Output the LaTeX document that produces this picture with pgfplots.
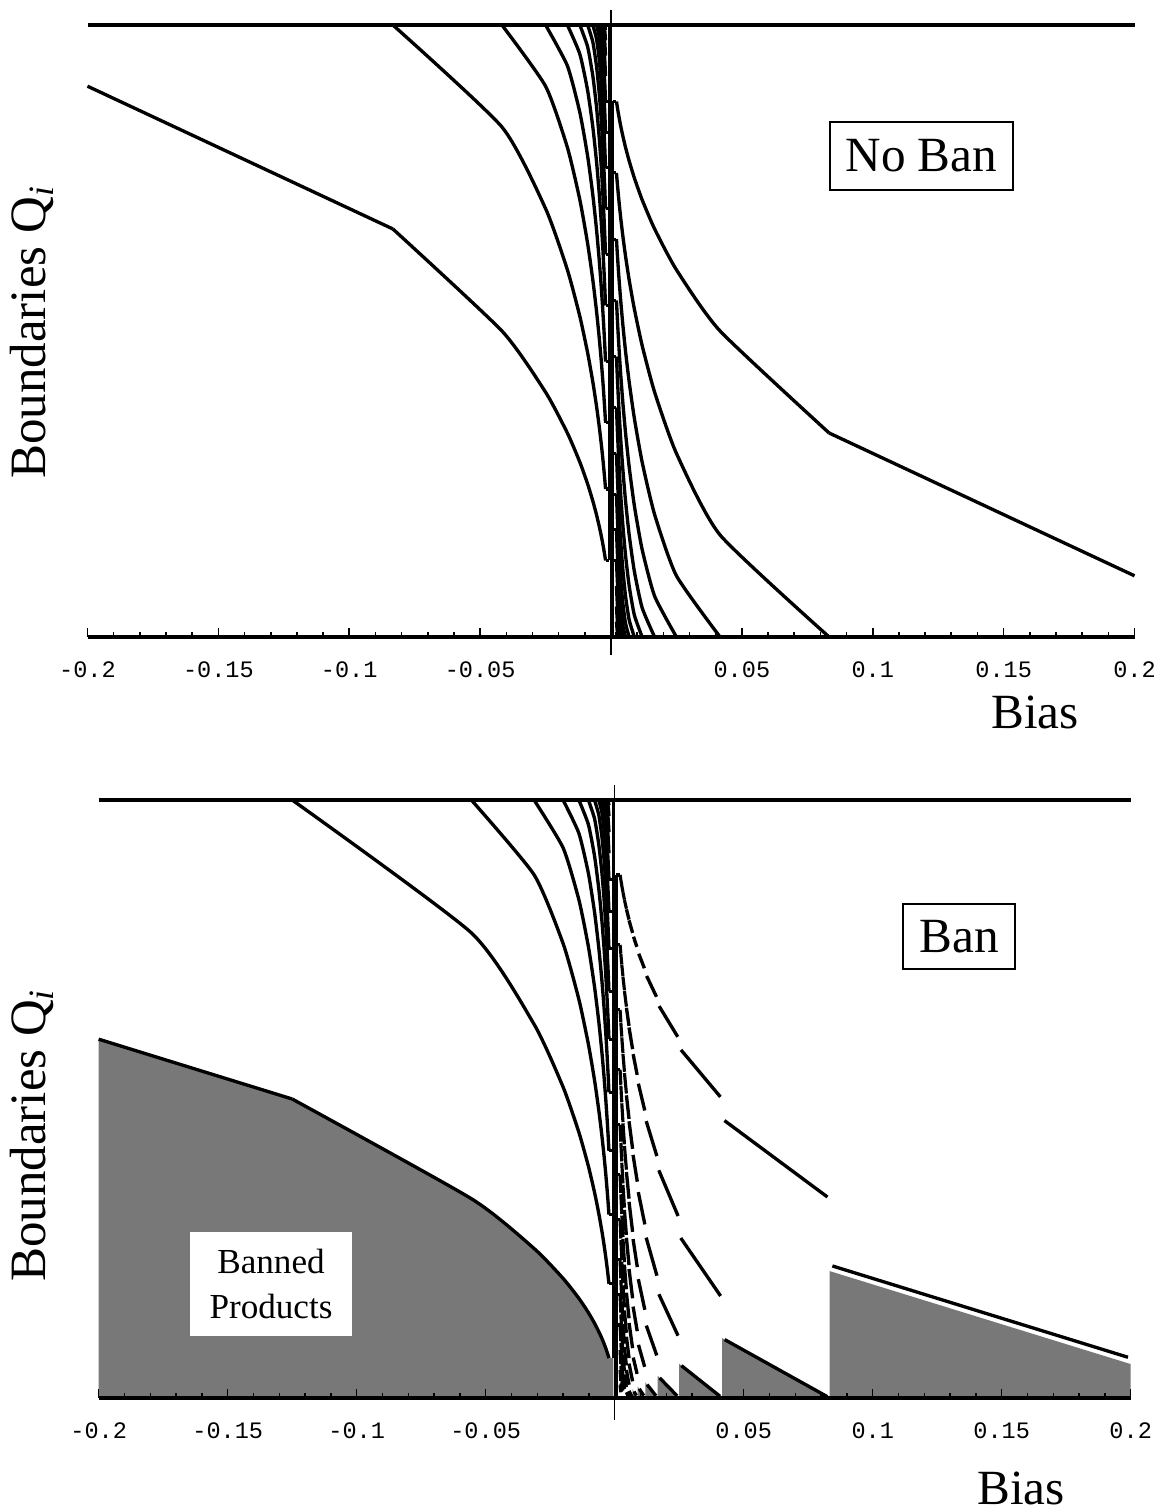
\documentclass[border=0pt]{standalone}
\usepackage{fontspec}
\setmainfont{Liberation Serif}
\newfontfamily\monofont{Liberation Mono}
\usepackage{pgfplots}
\pgfplotsset{compat=1.18}

\pgfplotsset{
  panel/.style={
    scale only axis, xmin=-0.2, xmax=0.2, ymin=0, ymax=1,
    axis x line*=bottom, axis y line=none, clip=false, axis on top,
    xtick={-0.2,-0.15,-0.1,-0.05,0.05,0.1,0.15,0.2},
    xticklabels={-0.2,-0.15,-0.1,-0.05,0.05,0.1,0.15,0.2},
    minor xtick={-0.19,-0.18,-0.17,-0.16,-0.14,-0.13,-0.12,-0.11,-0.09,-0.08,-0.07,-0.06,-0.04,-0.03,-0.02,-0.01,
                 0.01,0.02,0.03,0.04,0.06,0.07,0.08,0.09,0.11,0.12,0.13,0.14,0.16,0.17,0.18,0.19},
    ytick=\empty,
    tick align=inside,
    major tick length=0.085cm, minor tick length=0.05cm,
    tick style={black, line width=0.45pt},
    axis line style={black, line width=1.1pt},
    xticklabel style={font=\monofont\fontsize{6.7}{7.5}\selectfont, yshift=-0.12cm},
  },
  curve/.style={black, line width=0.95pt, line join=round},
  smoothcurve/.style={curve, smooth, tension=0.35},
  gapseg/.style={curve, shorten >=0.8pt, shorten <=0.8pt},
  banfill/.style={fill=black!53, draw=none},
  ladder/.style={black, line width=0.9pt, unbounded coords=jump},
}
\newcommand{\seg}[4]{\addplot[gapseg] coordinates {(#1,#2) (#3,#4)};}
\newcommand{\sseg}[4]{\addplot[curve] coordinates {(#1,#2) (#3,#4)};}

\begin{document}
\begin{tikzpicture}
\fill[white] (0,0) rectangle (11.61,15.12);
\path[use as bounding box] (0,0) rectangle (11.61,15.12);

% ---------------- top panel: no ban ----------------
\begin{axis}[panel, at={(0.875cm,8.75cm)}, anchor=south west, width=10.47cm, height=6.12cm]
\addplot[curve] coordinates {(-0.2,1) (0.2,1)};
\addplot[black, line width=0.45pt] coordinates {(0,-0.029) (0,1.0245)};
% left boundaries
\addplot[curve] coordinates {(-0.2,0.9) (-0.0833333,0.6667)};
\addplot[smoothcurve] coordinates {(-0.0833333,0.6667) (-0.0416667,0.5) (-0.025,0.4) (-0.0166667,0.3333) (-0.0119048,0.2857) (-0.0089286,0.25) (-0.0069444,0.2222) (-0.0055556,0.2) (-0.0045455,0.1818) (-0.0037879,0.1667) (-0.0032051,0.1538) (-0.0027473,0.1429) (-0.002381,0.1333) (-0.0020833,0.125)};
\addplot[smoothcurve] coordinates {(-0.0833333,1) (-0.0416667,0.8333) (-0.025,0.7) (-0.0166667,0.6) (-0.0119048,0.5238) (-0.0089286,0.4643) (-0.0069444,0.4167) (-0.0055556,0.3778) (-0.0045455,0.3455) (-0.0037879,0.3182) (-0.0032051,0.2949) (-0.0027473,0.2747) (-0.002381,0.2571) (-0.0020833,0.2417)};
\addplot[smoothcurve] coordinates {(-0.0416667,1) (-0.025,0.9) (-0.0166667,0.8) (-0.0119048,0.7143) (-0.0089286,0.6429) (-0.0069444,0.5833) (-0.0055556,0.5333) (-0.0045455,0.4909) (-0.0037879,0.4545) (-0.0032051,0.4231) (-0.0027473,0.3956) (-0.002381,0.3714) (-0.0020833,0.35)};
\addplot[smoothcurve] coordinates {(-0.025,1) (-0.0166667,0.9333) (-0.0119048,0.8571) (-0.0089286,0.7857) (-0.0069444,0.7222) (-0.0055556,0.6667) (-0.0045455,0.6182) (-0.0037879,0.5758) (-0.0032051,0.5385) (-0.0027473,0.5055) (-0.002381,0.4762) (-0.0020833,0.45)};
\addplot[smoothcurve] coordinates {(-0.0166667,1) (-0.0119048,0.9524) (-0.0089286,0.8929) (-0.0069444,0.8333) (-0.0055556,0.7778) (-0.0045455,0.7273) (-0.0037879,0.6818) (-0.0032051,0.641) (-0.0027473,0.6044) (-0.002381,0.5714) (-0.0020833,0.5417)};
\addplot[smoothcurve] coordinates {(-0.0119048,1) (-0.0089286,0.9643) (-0.0069444,0.9167) (-0.0055556,0.8667) (-0.0045455,0.8182) (-0.0037879,0.7727) (-0.0032051,0.7308) (-0.0027473,0.6923) (-0.002381,0.6571) (-0.0020833,0.625)};
\addplot[smoothcurve] coordinates {(-0.0089286,1) (-0.0069444,0.9722) (-0.0055556,0.9333) (-0.0045455,0.8909) (-0.0037879,0.8485) (-0.0032051,0.8077) (-0.0027473,0.7692) (-0.002381,0.7333) (-0.0020833,0.7)};
\addplot[smoothcurve] coordinates {(-0.0069444,1) (-0.0055556,0.9778) (-0.0045455,0.9455) (-0.0037879,0.9091) (-0.0032051,0.8718) (-0.0027473,0.8352) (-0.002381,0.8) (-0.0020833,0.7667)};
\addplot[smoothcurve] coordinates {(-0.0055556,1) (-0.0045455,0.9818) (-0.0037879,0.9545) (-0.0032051,0.9231) (-0.0027473,0.8901) (-0.002381,0.8571) (-0.0020833,0.825)};
\addplot[smoothcurve] coordinates {(-0.0045455,1) (-0.0037879,0.9848) (-0.0032051,0.9615) (-0.0027473,0.9341) (-0.002381,0.9048) (-0.0020833,0.875)};
\addplot[smoothcurve] coordinates {(-0.0037879,1) (-0.0032051,0.9872) (-0.0027473,0.967) (-0.002381,0.9429) (-0.0020833,0.9167)};
\addplot[smoothcurve] coordinates {(-0.0032051,1) (-0.0027473,0.989) (-0.002381,0.9714) (-0.0020833,0.95)};
\addplot[smoothcurve] coordinates {(-0.0027473,1) (-0.002381,0.9905) (-0.0020833,0.975)};
\addplot[curve] coordinates {(-0.002381,1) (-0.0020833,0.9917)};
% right boundaries
\addplot[curve] coordinates {(0.2,0.1) (0.0833333,0.3333)};
\addplot[smoothcurve] coordinates {(0.0833333,0.3333) (0.0416667,0.5) (0.025,0.6) (0.0166667,0.6667) (0.0119048,0.7143) (0.0089286,0.75) (0.0069444,0.7778) (0.0055556,0.8) (0.0045455,0.8182) (0.0037879,0.8333) (0.0032051,0.8462) (0.0027473,0.8571) (0.002381,0.8667) (0.0020833,0.875)};
\addplot[smoothcurve] coordinates {(0.0833333,0) (0.0416667,0.1667) (0.025,0.3) (0.0166667,0.4) (0.0119048,0.4762) (0.0089286,0.5357) (0.0069444,0.5833) (0.0055556,0.6222) (0.0045455,0.6545) (0.0037879,0.6818) (0.0032051,0.7051) (0.0027473,0.7253) (0.002381,0.7429) (0.0020833,0.7583)};
\addplot[smoothcurve] coordinates {(0.0416667,0) (0.025,0.1) (0.0166667,0.2) (0.0119048,0.2857) (0.0089286,0.3571) (0.0069444,0.4167) (0.0055556,0.4667) (0.0045455,0.5091) (0.0037879,0.5455) (0.0032051,0.5769) (0.0027473,0.6044) (0.002381,0.6286) (0.0020833,0.65)};
\addplot[smoothcurve] coordinates {(0.025,0) (0.0166667,0.0667) (0.0119048,0.1429) (0.0089286,0.2143) (0.0069444,0.2778) (0.0055556,0.3333) (0.0045455,0.3818) (0.0037879,0.4242) (0.0032051,0.4615) (0.0027473,0.4945) (0.002381,0.5238) (0.0020833,0.55)};
\addplot[smoothcurve] coordinates {(0.0166667,0) (0.0119048,0.0476) (0.0089286,0.1071) (0.0069444,0.1667) (0.0055556,0.2222) (0.0045455,0.2727) (0.0037879,0.3182) (0.0032051,0.359) (0.0027473,0.3956) (0.002381,0.4286) (0.0020833,0.4583)};
\addplot[smoothcurve] coordinates {(0.0119048,0) (0.0089286,0.0357) (0.0069444,0.0833) (0.0055556,0.1333) (0.0045455,0.1818) (0.0037879,0.2273) (0.0032051,0.2692) (0.0027473,0.3077) (0.002381,0.3429) (0.0020833,0.375)};
\addplot[smoothcurve] coordinates {(0.0089286,0) (0.0069444,0.0278) (0.0055556,0.0667) (0.0045455,0.1091) (0.0037879,0.1515) (0.0032051,0.1923) (0.0027473,0.2308) (0.002381,0.2667) (0.0020833,0.3)};
\addplot[smoothcurve] coordinates {(0.0069444,0) (0.0055556,0.0222) (0.0045455,0.0545) (0.0037879,0.0909) (0.0032051,0.1282) (0.0027473,0.1648) (0.002381,0.2) (0.0020833,0.2333)};
\addplot[smoothcurve] coordinates {(0.0055556,0) (0.0045455,0.0182) (0.0037879,0.0455) (0.0032051,0.0769) (0.0027473,0.1099) (0.002381,0.1429) (0.0020833,0.175)};
\addplot[smoothcurve] coordinates {(0.0045455,0) (0.0037879,0.0152) (0.0032051,0.0385) (0.0027473,0.0659) (0.002381,0.0952) (0.0020833,0.125)};
\addplot[smoothcurve] coordinates {(0.0037879,0) (0.0032051,0.0128) (0.0027473,0.033) (0.002381,0.0571) (0.0020833,0.0833)};
\addplot[smoothcurve] coordinates {(0.0032051,0) (0.0027473,0.011) (0.002381,0.0286) (0.0020833,0.05)};
\addplot[smoothcurve] coordinates {(0.0027473,0) (0.002381,0.0095) (0.0020833,0.025)};
\addplot[curve] coordinates {(0.002381,0) (0.0020833,0.0083)};
% ladders next to the vertical axis
\addplot[ladder] coordinates {(-0.0006,0.125) (-0.0006,1)};
\addplot[ladder] coordinates {(-0.0020833,0.125) (-0.0006,0.125) (0,nan) (-0.0020833,0.2417) (-0.0006,0.2417) (0,nan)
  (-0.0020833,0.35) (-0.0006,0.35) (0,nan) (-0.0020833,0.45) (-0.0006,0.45) (0,nan) (-0.0020833,0.5417) (-0.0006,0.5417) (0,nan)
  (-0.0020833,0.625) (-0.0006,0.625) (0,nan) (-0.0020833,0.7) (-0.0006,0.7) (0,nan) (-0.0020833,0.7667) (-0.0006,0.7667) (0,nan)
  (-0.0020833,0.825) (-0.0006,0.825) (0,nan) (-0.0020833,0.875) (-0.0006,0.875)};
\addplot[ladder] coordinates {(0.0006,0) (0.0006,0.875)};
\addplot[ladder] coordinates {(0.0006,0.875) (0.0020833,0.875) (0,nan) (0.0006,0.7583) (0.0020833,0.7583) (0,nan)
  (0.0006,0.65) (0.0020833,0.65) (0,nan) (0.0006,0.55) (0.0020833,0.55) (0,nan) (0.0006,0.4583) (0.0020833,0.4583) (0,nan)
  (0.0006,0.375) (0.0020833,0.375) (0,nan) (0.0006,0.3) (0.0020833,0.3) (0,nan) (0.0006,0.2333) (0.0020833,0.2333) (0,nan)
  (0.0006,0.175) (0.0020833,0.175) (0,nan) (0.0006,0.125) (0.0020833,0.125)};
\node[draw, line width=0.6pt, fill=white, minimum width=1.83cm, minimum height=0.68cm, inner sep=0pt,
      font=\fontsize{14}{16}\selectfont] at (axis cs:0.1186,0.786) {No Ban};
\end{axis}

% ---------------- bottom panel: ban ----------------
\begin{axis}[panel, at={(0.987cm,1.14cm)}, anchor=south west, width=10.32cm, height=5.98cm]
% banned region, negative bias
\addplot[banfill] coordinates {(-0.2,0.6) (-0.125,0.5) (-0.0555556,0.3333) (-0.03125,0.25) (-0.02,0.2) (-0.0138889,0.1667) (-0.0102041,0.1429) (-0.0078125,0.125) (-0.0061728,0.1111) (-0.005,0.1) (-0.0041322,0.0909) (-0.0034722,0.0833) (-0.0029586,0.0769) (-0.002551,0.0714) (-0.0022222,0.0667) (-0.0005,0.0667) (-0.0005,0)} \closedcycle;
% banned region, positive bias
\addplot[banfill] coordinates {(0.0833333,0) (0.0833333,0.2122) (0.2,0.0567) (0.2,0)} \closedcycle;
\addplot[banfill] coordinates {(0.0416667,0) (0.0416667,0.1) (0.0833333,0)} \closedcycle;
\addplot[banfill] coordinates {(0.025,0) (0.025,0.0571) (0.0416667,0)} \closedcycle;
\addplot[banfill] coordinates {(0.0166667,0) (0.0166667,0.037) (0.025,0)} \closedcycle;
\addplot[banfill] coordinates {(0.0119048,0) (0.0119048,0.026) (0.0166667,0)} \closedcycle;
\addplot[banfill] coordinates {(0.0089286,0) (0.0089286,0.0192) (0.0119048,0)} \closedcycle;
\addplot[banfill] coordinates {(0.0069444,0) (0.0069444,0.0148) (0.0089286,0)} \closedcycle;

\addplot[curve] coordinates {(-0.2,1) (0.2,1)};
\addplot[black, line width=0.45pt] coordinates {(0,-0.037) (0,1.025)};
% left boundaries
\addplot[curve] coordinates {(-0.2,0.6) (-0.125,0.5)};
\addplot[smoothcurve] coordinates {(-0.125,0.5) (-0.0555556,0.3333) (-0.03125,0.25) (-0.02,0.2) (-0.0138889,0.1667) (-0.0102041,0.1429) (-0.0078125,0.125) (-0.0061728,0.1111) (-0.005,0.1) (-0.0041322,0.0909) (-0.0034722,0.0833) (-0.0029586,0.0769) (-0.002551,0.0714) (-0.0022222,0.0667)};
\addplot[smoothcurve] coordinates {(-0.125,1) (-0.0555556,0.7778) (-0.03125,0.625) (-0.02,0.52) (-0.0138889,0.4444) (-0.0102041,0.3878) (-0.0078125,0.3438) (-0.0061728,0.3086) (-0.005,0.28) (-0.0041322,0.2562) (-0.0034722,0.2361) (-0.0029586,0.2189) (-0.002551,0.2041) (-0.0022222,0.1911)};
\addplot[smoothcurve] coordinates {(-0.0555556,1) (-0.03125,0.875) (-0.02,0.76) (-0.0138889,0.6667) (-0.0102041,0.5918) (-0.0078125,0.5313) (-0.0061728,0.4815) (-0.005,0.44) (-0.0041322,0.405) (-0.0034722,0.375) (-0.0029586,0.3491) (-0.002551,0.3265) (-0.0022222,0.3067)};
\addplot[smoothcurve] coordinates {(-0.03125,1) (-0.02,0.92) (-0.0138889,0.8333) (-0.0102041,0.7551) (-0.0078125,0.6875) (-0.0061728,0.6296) (-0.005,0.58) (-0.0041322,0.5372) (-0.0034722,0.5) (-0.0029586,0.4675) (-0.002551,0.4388) (-0.0022222,0.4133)};
\addplot[smoothcurve] coordinates {(-0.02,1) (-0.0138889,0.9444) (-0.0102041,0.8776) (-0.0078125,0.8125) (-0.0061728,0.7531) (-0.005,0.7) (-0.0041322,0.6529) (-0.0034722,0.6111) (-0.0029586,0.574) (-0.002551,0.5408) (-0.0022222,0.5111)};
\addplot[smoothcurve] coordinates {(-0.0138889,1) (-0.0102041,0.9592) (-0.0078125,0.9063) (-0.0061728,0.8519) (-0.005,0.8) (-0.0041322,0.7521) (-0.0034722,0.7083) (-0.0029586,0.6686) (-0.002551,0.6327) (-0.0022222,0.6)};
\addplot[smoothcurve] coordinates {(-0.0102041,1) (-0.0078125,0.9688) (-0.0061728,0.9259) (-0.005,0.88) (-0.0041322,0.8347) (-0.0034722,0.7917) (-0.0029586,0.7515) (-0.002551,0.7143) (-0.0022222,0.68)};
\addplot[smoothcurve] coordinates {(-0.0078125,1) (-0.0061728,0.9753) (-0.005,0.94) (-0.0041322,0.9008) (-0.0034722,0.8611) (-0.0029586,0.8225) (-0.002551,0.7857) (-0.0022222,0.7511)};
\addplot[smoothcurve] coordinates {(-0.0061728,1) (-0.005,0.98) (-0.0041322,0.9504) (-0.0034722,0.9167) (-0.0029586,0.8817) (-0.002551,0.8469) (-0.0022222,0.8133)};
\addplot[smoothcurve] coordinates {(-0.005,1) (-0.0041322,0.9835) (-0.0034722,0.9583) (-0.0029586,0.929) (-0.002551,0.898) (-0.0022222,0.8667)};
\addplot[smoothcurve] coordinates {(-0.0041322,1) (-0.0034722,0.9861) (-0.0029586,0.9645) (-0.002551,0.9388) (-0.0022222,0.9111)};
\addplot[smoothcurve] coordinates {(-0.0034722,1) (-0.0029586,0.9882) (-0.002551,0.9694) (-0.0022222,0.9467)};
\addplot[smoothcurve] coordinates {(-0.0029586,1) (-0.002551,0.9898) (-0.0022222,0.9733)};
\addplot[curve] coordinates {(-0.002551,1) (-0.0022222,0.9911)};
% right boundaries: one piece for each number of intervals
\seg{0.0833333}{0.2222}{0.2}{0.0667}
\seg{0.0416667}{0.1}{0.0833333}{0}
\seg{0.0416667}{0.4667}{0.0833333}{0.3333}
\seg{0.025}{0.0571}{0.0416667}{0}
\seg{0.025}{0.2714}{0.0416667}{0.1667}
\seg{0.025}{0.5857}{0.0416667}{0.5}
\seg{0.0166667}{0.037}{0.025}{0}
\seg{0.0166667}{0.1778}{0.025}{0.1}
\seg{0.0166667}{0.3852}{0.025}{0.3}
\seg{0.0166667}{0.6593}{0.025}{0.6}
\seg{0.0119048}{0.026}{0.0166667}{0}
\seg{0.0119048}{0.1255}{0.0166667}{0.0667}
\seg{0.0119048}{0.2727}{0.0166667}{0.2}
\seg{0.0119048}{0.4675}{0.0166667}{0.4}
\seg{0.0119048}{0.71}{0.0166667}{0.6667}
\seg{0.0089286}{0.0192}{0.0119048}{0}
\seg{0.0089286}{0.0934}{0.0119048}{0.0476}
\seg{0.0089286}{0.2033}{0.0119048}{0.1429}
\seg{0.0089286}{0.3489}{0.0119048}{0.2857}
\seg{0.0089286}{0.5302}{0.0119048}{0.4762}
\seg{0.0089286}{0.7473}{0.0119048}{0.7143}
\seg{0.0069444}{0.0148}{0.0089286}{0}
\seg{0.0069444}{0.0722}{0.0089286}{0.0357}
\seg{0.0069444}{0.1574}{0.0089286}{0.1071}
\seg{0.0069444}{0.2704}{0.0089286}{0.2143}
\seg{0.0069444}{0.4111}{0.0089286}{0.3571}
\seg{0.0069444}{0.5796}{0.0089286}{0.5357}
\seg{0.0069444}{0.7759}{0.0089286}{0.75}
\sseg{0.0055556}{0.0118}{0.0069444}{0}
\sseg{0.0055556}{0.0575}{0.0069444}{0.0278}
\sseg{0.0055556}{0.1255}{0.0069444}{0.0833}
\sseg{0.0055556}{0.2157}{0.0069444}{0.1667}
\sseg{0.0055556}{0.3281}{0.0069444}{0.2778}
\sseg{0.0055556}{0.4627}{0.0069444}{0.4167}
\sseg{0.0055556}{0.6196}{0.0069444}{0.5833}
\sseg{0.0055556}{0.7987}{0.0069444}{0.7778}
\sseg{0.0045455}{0.0096}{0.0055556}{0}
\sseg{0.0045455}{0.0469}{0.0055556}{0.0222}
\sseg{0.0045455}{0.1024}{0.0055556}{0.0667}
\sseg{0.0045455}{0.1761}{0.0055556}{0.1333}
\sseg{0.0045455}{0.2679}{0.0055556}{0.2222}
\sseg{0.0045455}{0.378}{0.0055556}{0.3333}
\sseg{0.0045455}{0.5062}{0.0055556}{0.4667}
\sseg{0.0045455}{0.6526}{0.0055556}{0.6222}
\sseg{0.0045455}{0.8172}{0.0055556}{0.8}
\addplot[ladder] coordinates {
  (0.0037879,0.039) (0.0045455,0.0182) (0,nan) (0.0037879,0.0851) (0.0045455,0.0545) (0,nan)
  (0.0037879,0.1465) (0.0045455,0.1091) (0,nan) (0.0037879,0.2229) (0.0045455,0.1818) (0,nan)
  (0.0037879,0.3146) (0.0045455,0.2727) (0,nan) (0.0037879,0.4214) (0.0045455,0.3818) (0,nan)
  (0.0037879,0.5433) (0.0045455,0.5091) (0,nan) (0.0037879,0.6804) (0.0045455,0.6545) (0,nan)
  (0.0037879,0.8326) (0.0045455,0.8182) (0,nan)
  (0.0032051,0.0329) (0.0037879,0.0152) (0,nan) (0.0032051,0.0719) (0.0037879,0.0455) (0,nan)
  (0.0032051,0.1238) (0.0037879,0.0909) (0,nan) (0.0032051,0.1884) (0.0037879,0.1515) (0,nan)
  (0.0032051,0.2659) (0.0037879,0.2273) (0,nan) (0.0032051,0.3562) (0.0037879,0.3182) (0,nan)
  (0.0032051,0.4593) (0.0037879,0.4242) (0,nan) (0.0032051,0.5753) (0.0037879,0.5455) (0,nan)
  (0.0032051,0.704) (0.0037879,0.6818) (0,nan) (0.0032051,0.8456) (0.0037879,0.8333) (0,nan)
  (0.0027473,0.0281) (0.0032051,0.0128) (0,nan) (0.0027473,0.0615) (0.0032051,0.0385) (0,nan)
  (0.0027473,0.1059) (0.0032051,0.0769) (0,nan) (0.0027473,0.1613) (0.0032051,0.1282) (0,nan)
  (0.0027473,0.2277) (0.0032051,0.1923) (0,nan) (0.0027473,0.3051) (0.0032051,0.2692) (0,nan)
  (0.0027473,0.3934) (0.0032051,0.359) (0,nan) (0.0027473,0.4928) (0.0032051,0.4615) (0,nan)
  (0.0027473,0.6031) (0.0032051,0.5769) (0,nan) (0.0027473,0.7244) (0.0032051,0.7051) (0,nan)
  (0.0027473,0.8567) (0.0032051,0.8462) (0,nan)
  (0.002381,0.0243) (0.0027473,0.011) (0,nan) (0.002381,0.0533) (0.0027473,0.033) (0,nan)
  (0.002381,0.0917) (0.0027473,0.0659) (0,nan) (0.002381,0.1397) (0.0027473,0.1099) (0,nan)
  (0.002381,0.1972) (0.0027473,0.1648) (0,nan) (0.002381,0.2642) (0.0027473,0.2308) (0,nan)
  (0.002381,0.3407) (0.0027473,0.3077) (0,nan) (0.002381,0.4268) (0.0027473,0.3956) (0,nan)
  (0.002381,0.5224) (0.0027473,0.4945) (0,nan) (0.002381,0.6275) (0.0027473,0.6044) (0,nan)
  (0.002381,0.7422) (0.0027473,0.7253) (0,nan) (0.002381,0.8663) (0.0027473,0.8571) (0,nan)
  (0.0020833,0.0213) (0.002381,0.0095) (0,nan) (0.0020833,0.0466) (0.002381,0.0286) (0,nan)
  (0.0020833,0.0802) (0.002381,0.0571) (0,nan) (0.0020833,0.1221) (0.002381,0.0952) (0,nan)
  (0.0020833,0.1724) (0.002381,0.1429) (0,nan) (0.0020833,0.231) (0.002381,0.2) (0,nan)
  (0.0020833,0.298) (0.002381,0.2667) (0,nan) (0.0020833,0.3733) (0.002381,0.3429) (0,nan)
  (0.0020833,0.4569) (0.002381,0.4286) (0,nan) (0.0020833,0.5489) (0.002381,0.5238) (0,nan)
  (0.0020833,0.6491) (0.002381,0.6286) (0,nan) (0.0020833,0.7578) (0.002381,0.7429) (0,nan)
  (0.0020833,0.8747) (0.002381,0.8667)};
% ladders next to the vertical axis
\addplot[ladder] coordinates {(-0.0006,0.0667) (-0.0006,1)};
\addplot[ladder] coordinates {(-0.0022222,0.1911) (-0.0006,0.1911) (0,nan) (-0.0022222,0.3067) (-0.0006,0.3067) (0,nan)
  (-0.0022222,0.4133) (-0.0006,0.4133) (0,nan) (-0.0022222,0.5111) (-0.0006,0.5111) (0,nan) (-0.0022222,0.6) (-0.0006,0.6) (0,nan)
  (-0.0022222,0.68) (-0.0006,0.68) (0,nan) (-0.0022222,0.7511) (-0.0006,0.7511) (0,nan) (-0.0022222,0.8133) (-0.0006,0.8133) (0,nan)
  (-0.0022222,0.8667) (-0.0006,0.8667)};
\addplot[ladder] coordinates {(0.0006,0) (0.0006,0.8747)};
\addplot[ladder] coordinates {(0.0006,0.8747) (0.0020833,0.8747) (0,nan) (0.0006,0.7578) (0.0020833,0.7578) (0,nan)
  (0.0006,0.6491) (0.0020833,0.6491) (0,nan) (0.0006,0.5489) (0.0020833,0.5489) (0,nan) (0.0006,0.4569) (0.0020833,0.4569) (0,nan)
  (0.0006,0.3733) (0.0020833,0.3733) (0,nan) (0.0006,0.298) (0.0020833,0.298) (0,nan) (0.0006,0.231) (0.0020833,0.231) (0,nan)
  (0.0006,0.1724) (0.0020833,0.1724) (0,nan) (0.0006,0.1221) (0.0020833,0.1221)};
\node[fill=white, minimum width=1.62cm, minimum height=1.04cm, inner sep=0pt, align=center,
      font=\fontsize{10}{12.8}\selectfont] at (axis cs:-0.1332,0.1906) {Banned\\Products};
\node[draw, line width=0.6pt, fill=white, minimum width=1.12cm, minimum height=0.65cm, inner sep=0pt,
      font=\fontsize{14}{16}\selectfont] at (axis cs:0.1335,0.771) {Ban};
\end{axis}

% axis titles
\node[rotate=90, font=\fontsize{14.5}{17}\selectfont] at (0.32,11.80) {Boundaries Q\textsubscript{\itshape i}};
\node[rotate=90, font=\fontsize{14.5}{17}\selectfont] at (0.32,3.77) {Boundaries Q\textsubscript{\itshape i}};
\node[font=\fontsize{14}{16}\selectfont] at (10.35,8.00) {Bias};
\node[font=\fontsize{14}{16}\selectfont] at (10.21,0.24) {Bias};
\end{tikzpicture}
\end{document}
